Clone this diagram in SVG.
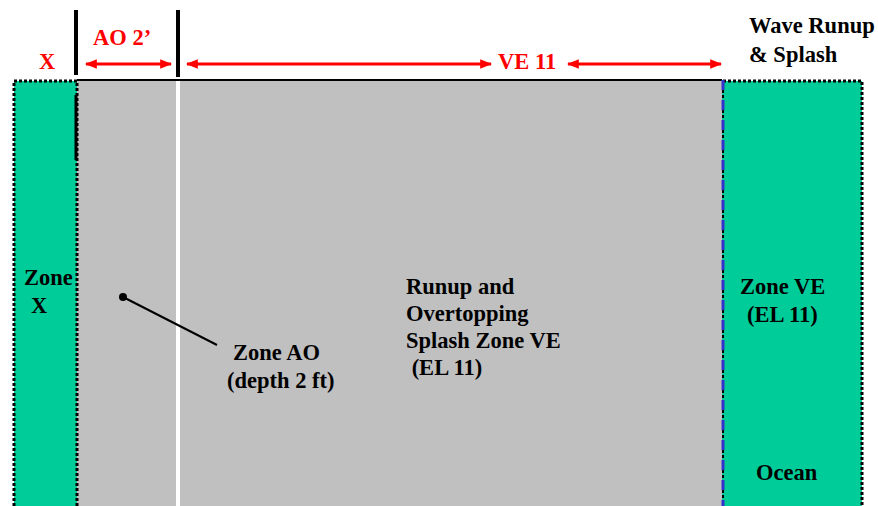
<svg xmlns="http://www.w3.org/2000/svg" width="878" height="506" viewBox="0 0 878 506">
<defs>
<style>
.t{font-family:'Liberation Serif','Times New Roman',serif;font-weight:bold;font-size:22.5px;fill:#000}
.r{fill:#ff0000}
.dot{fill:none;stroke:#000;stroke-width:3;stroke-dasharray:3 2}
.arr{stroke:#ff0000;stroke-width:3;fill:none}
.bar{stroke:#000;stroke-width:4}
</style>
<marker id="ah" viewBox="0 0 10 10" refX="9" refY="5" markerWidth="4" markerHeight="4" orient="auto-start-reverse" markerUnits="strokeWidth">
<path d="M0,1 L10,5 L0,9 Z" fill="#ff0000"/>
</marker>
</defs>
<rect width="878" height="506" fill="#fff"/>
<g id="zone-ao-area">
<rect x="77" y="80" width="645" height="426" fill="#c0c0c0"/>
<line x1="178" y1="80" x2="178" y2="506" stroke="#fff" stroke-width="4"/>
<line x1="77" y1="80" x2="722" y2="80" stroke="#000" stroke-width="2"/>
</g>
<g id="zone-x">
<rect x="14" y="81" width="63" height="430" fill="#00cc99"/>
<path class="dot" d="M14,511 V81 H77 V511"/>
<line x1="76" y1="95" x2="76" y2="160" stroke="#000" stroke-width="3"/>
<text class="t" x="24" y="285">Zone</text>
<text class="t" x="31" y="313">X</text>
</g>
<g id="zone-ve">
<rect x="722" y="81" width="140" height="430" fill="#00cc99"/>
<path class="dot" d="M723,81 H862 V511"/>
<line x1="723" y1="80" x2="723" y2="506" stroke="#000" stroke-width="2" stroke-dasharray="3 2"/>
<line x1="723" y1="80" x2="723" y2="506" stroke="#3333cc" stroke-width="3" stroke-dasharray="10 10"/>
<text class="t" x="740" y="294">Zone VE</text>
<text class="t" x="747" y="322">(EL 11)</text>
<text class="t" x="756" y="480">Ocean</text>
</g>
<g id="splash-label">
<text class="t" x="406" y="294">Runup and</text>
<text class="t" x="406" y="321">Overtopping</text>
<text class="t" x="406" y="348">Splash Zone VE</text>
<text class="t" x="406" y="375" xml:space="preserve"> (EL 11)</text>
</g>
<g id="zone-ao-label">
<text class="t" x="233" y="360">Zone AO</text>
<text class="t" x="227" y="388">(depth 2 ft)</text>
</g>
<g id="wave-runup-label">
<text class="t" x="749" y="33">Wave Runup</text>
<text class="t" x="749" y="62">&amp; Splash</text>
</g>
<g id="dimensions">
<line class="bar" x1="76" y1="10" x2="76" y2="75"/>
<line class="bar" x1="178" y1="10" x2="178" y2="77"/>
<text class="t r" x="39" y="69">X</text>
<text class="t r" x="93" y="45">AO 2’</text>
<text class="t r" x="498" y="69">VE 11</text>
</g>
<g id="connectors">
<line class="arr" x1="86" y1="64" x2="171" y2="64" marker-start="url(#ah)" marker-end="url(#ah)"/>
<line class="arr" x1="187" y1="64" x2="491" y2="64" marker-start="url(#ah)" marker-end="url(#ah)"/>
<line class="arr" x1="568" y1="64" x2="721" y2="64" marker-start="url(#ah)" marker-end="url(#ah)"/>
<circle cx="123" cy="297" r="4" fill="#000"/>
<line x1="123" y1="297" x2="217" y2="345" stroke="#000" stroke-width="2"/>
</g>
</svg>
